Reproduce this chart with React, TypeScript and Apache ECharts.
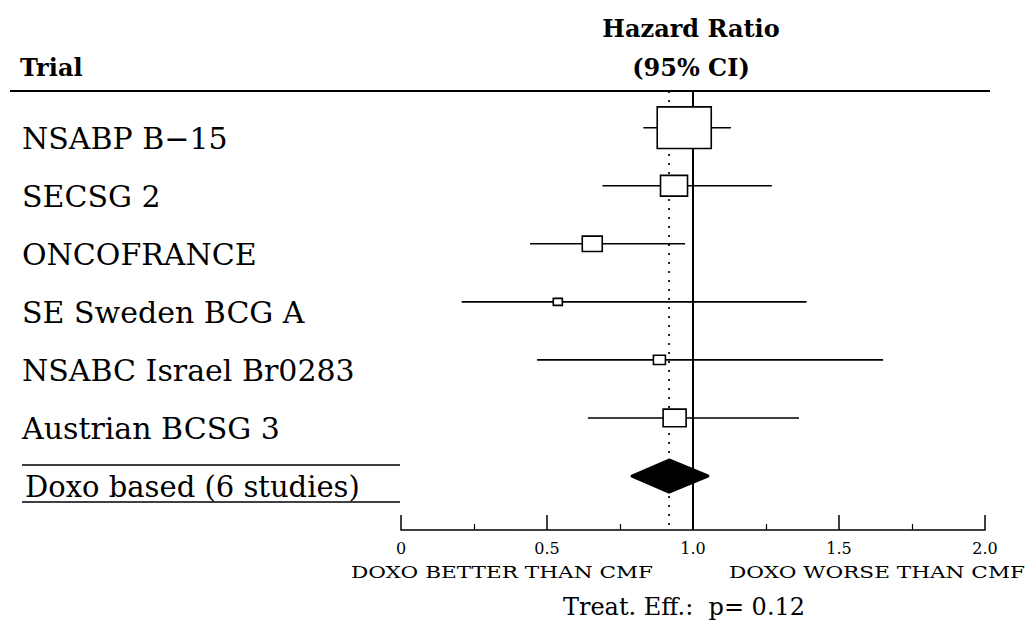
import React, { useEffect, useRef } from "react";
import * as echarts from "echarts";

// ---- data ----
const trials = [
  "NSABP B\u221215",
  "SECSG 2",
  "ONCOFRANCE",
  "SE Sweden BCG A",
  "NSABC Israel Br0283",
  "Austrian BCSG 3",
];
const hazardRatio = [0.97, 0.935, 0.655, 0.537, 0.885, 0.937];
const ciLower = [0.83, 0.69, 0.442, 0.208, 0.466, 0.64];
const ciUpper = [1.13, 1.27, 0.973, 1.389, 1.651, 1.363];
const weightPct = [60.8, 15.2, 8.3, 1.7, 3.0, 11.0];

const pooledLabel = "Doxo based (6 studies)";
const pooledHR = 0.918;
const pooledLower = 0.791;
const pooledUpper = 1.051;

const xTickValues = [0, 0.5, 1.0, 1.5, 2.0];
const xTickLabels = ["0", "0.5", "1.0", "1.5", "2.0"];

const headerTrial = "Trial";
const headerHR1 = "Hazard Ratio";
const headerHR2 = "(95% CI)";
const leftNote = "DOXO BETTER THAN CMF";
const rightNote = "DOXO WORSE THAN CMF";
const pNote = "Treat. Eff.:  p= 0.12";

const SERIF = "'DejaVu Serif', 'Liberation Serif', serif";

export default function App() {
  const ref = useRef<HTMLDivElement>(null);

  useEffect(() => {
    if (!ref.current) return;
    const chart = echarts.init(ref.current, null, { renderer: "svg" });

    const labelOffsetX = 379; // distance from grid left to label start
    const labelDy = 11;

    const studyData = trials.map((_, i) => [
      hazardRatio[i],
      i,
      ciLower[i],
      ciUpper[i],
      weightPct[i],
    ]);

    const option: any = {
      animation: false,
      backgroundColor: "#fff",
      grid: { left: 401, right: 51, top: 91, bottom: 97 },
      xAxis: {
        type: "value",
        min: 0,
        max: 2,
        interval: 0.5,
        axisLine: {
          show: true,
          onZero: false,
          lineStyle: { color: "#000", width: 1.5 },
        },
        axisTick: {
          show: true,
          inside: true,
          length: 15,
          lineStyle: { color: "#000", width: 1.5 },
        },
        minorTick: {
          show: true,
          splitNumber: 2,
          length: 6,
          lineStyle: { color: "#000", width: 1.2 },
        },
        splitLine: { show: false },
        minorSplitLine: { show: false },
        axisLabel: {
          color: "#000",
          fontFamily: SERIF,
          fontSize: 16,
          margin: 10,
          formatter: (v: number) => {
            const k = xTickValues.findIndex((t) => Math.abs(t - v) < 1e-9);
            return k >= 0 ? xTickLabels[k] : "";
          },
        },
      },
      yAxis: {
        type: "value",
        min: -0.632,
        max: 6.93,
        inverse: true,
        show: false,
      },
      series: [
        {
          // reference lines (null effect and pooled estimate)
          type: "custom",
          z: 1,
          data: [
            [1.0, 0],
            [pooledHR, 1],
          ],
          renderItem: (params: any, api: any) => {
            const x = api.coord([api.value(0), 0])[0];
            const cs = params.coordSys;
            const dotted = api.value(1) === 1;
            return {
              type: "line",
              shape: { x1: x, y1: cs.y, x2: x, y2: cs.y + cs.height },
              style: dotted
                ? { stroke: "#222", lineWidth: 2, lineDash: [2, 7] }
                : { stroke: "#000", lineWidth: 2 },
            };
          },
        },
        {
          type: "custom",
          z: 5,
          data: studyData,
          renderItem: (params: any, api: any) => {
            const hr = api.value(0);
            const idx = api.value(1);
            const lo = api.value(2);
            const hi = api.value(3);
            const w = api.value(4);
            const c = api.coord([hr, idx]);
            const l = api.coord([lo, idx]);
            const h = api.coord([hi, idx]);
            const side = Math.sqrt(w) * 6.93;
            const bw = side;
            const bh = side * 0.77;
            const cs = params.coordSys;
            return {
              type: "group",
              children: [
                {
                  type: "line",
                  shape: { x1: l[0], y1: c[1], x2: h[0], y2: c[1] },
                  style: { stroke: "#000", lineWidth: 1.6 },
                },
                {
                  type: "rect",
                  shape: {
                    x: c[0] - bw / 2,
                    y: c[1] - bh / 2,
                    width: bw,
                    height: bh,
                  },
                  style: { fill: "#fff", stroke: "#000", lineWidth: 1.6 },
                },
                {
                  type: "text",
                  x: cs.x - labelOffsetX,
                  y: c[1] + labelDy,
                  style: {
                    text: trials[params.dataIndex],
                    fill: "#000",
                    fontFamily: SERIF,
                    fontSize: 30,
                    align: "left",
                    verticalAlign: "middle",
                  },
                },
              ],
            };
          },
        },
        {
          type: "custom",
          z: 6,
          data: [[pooledHR, trials.length, pooledLower, pooledUpper]],
          renderItem: (params: any, api: any) => {
            const idx = api.value(1);
            const c = api.coord([api.value(0), idx]);
            const l = api.coord([api.value(2), idx]);
            const h = api.coord([api.value(3), idx]);
            const cs = params.coordSys;
            const hh = 16;
            const lx0 = cs.x - labelOffsetX;
            const lx1 = cs.x - 1;
            return {
              type: "group",
              children: [
                {
                  type: "polygon",
                  shape: {
                    points: [
                      [l[0], c[1]],
                      [c[0], c[1] - hh],
                      [h[0], c[1]],
                      [c[0], c[1] + hh],
                    ],
                  },
                  style: {
                    fill: "#000",
                    stroke: "#000",
                    lineWidth: 3,
                    lineJoin: "round",
                  },
                },
                {
                  type: "line",
                  shape: { x1: lx0, y1: c[1] - 11, x2: lx1, y2: c[1] - 11 },
                  style: { stroke: "#000", lineWidth: 1.5 },
                },
                {
                  type: "line",
                  shape: { x1: lx0, y1: c[1] + 26, x2: lx1, y2: c[1] + 26 },
                  style: { stroke: "#000", lineWidth: 1.5 },
                },
                {
                  type: "text",
                  x: lx0 + 3,
                  y: c[1] + labelDy,
                  style: {
                    text: pooledLabel,
                    fill: "#000",
                    fontFamily: SERIF,
                    fontSize: 29,
                    align: "left",
                    verticalAlign: "middle",
                  },
                },
              ],
            };
          },
        },
      ],
      graphic: [
        {
          type: "line",
          shape: { x1: 10, y1: 91, x2: 990, y2: 91 },
          style: { stroke: "#000", lineWidth: 2 },
          z: 10,
        },
        {
          type: "text",
          x: 20,
          y: 67,
          style: {
            text: headerTrial,
            fill: "#000",
            fontFamily: SERIF,
            fontWeight: "bold",
            fontSize: 24,
            align: "left",
            verticalAlign: "middle",
          },
        },
        {
          type: "text",
          x: 691,
          y: 28,
          style: {
            text: headerHR1,
            fill: "#000",
            fontFamily: SERIF,
            fontWeight: "bold",
            fontSize: 24,
            align: "center",
            verticalAlign: "middle",
          },
        },
        {
          type: "text",
          x: 691,
          y: 67,
          style: {
            text: headerHR2,
            fill: "#000",
            fontFamily: SERIF,
            fontWeight: "bold",
            fontSize: 24,
            align: "center",
            verticalAlign: "middle",
          },
        },
        {
          type: "text",
          x: 502,
          y: 572,
          scaleX: 1.35,
          style: {
            text: leftNote,
            fill: "#000",
            fontFamily: SERIF,
            fontSize: 16,
            align: "center",
            verticalAlign: "middle",
          },
        },
        {
          type: "text",
          x: 877,
          y: 572,
          scaleX: 1.35,
          style: {
            text: rightNote,
            fill: "#000",
            fontFamily: SERIF,
            fontSize: 16,
            align: "center",
            verticalAlign: "middle",
          },
        },
        {
          type: "text",
          x: 684,
          y: 607,
          style: {
            text: pNote,
            fill: "#000",
            fontFamily: SERIF,
            fontSize: 24,
            align: "center",
            verticalAlign: "middle",
          },
        },
      ],
    };

    chart.setOption(option);
    return () => chart.dispose();
  }, []);

  return (
    <div
      ref={ref}
      style={{
        position: "fixed",
        left: 0,
        top: 0,
        width: 1036,
        height: 627,
        background: "#fff",
      }}
    />
  );
}
